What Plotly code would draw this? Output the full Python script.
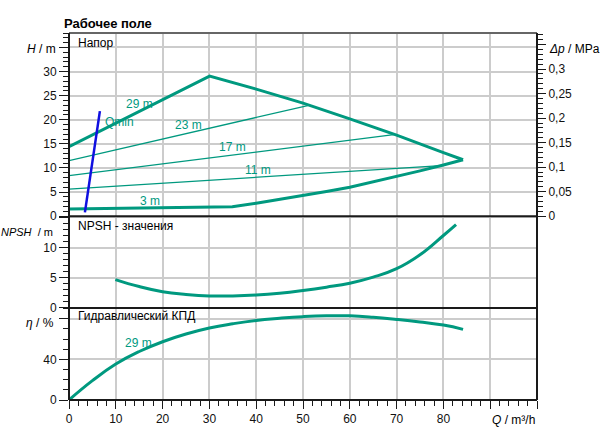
import plotly.graph_objects as go

# ---------------- data ----------------
# Top panel: head H (m) vs flow Q (m3/h)
q_max = [0, 30.04, 40, 50, 60, 70, 80, 84.2]
h_max = [14.4, 29.05, 26.35, 23.45, 20.2, 16.8, 13.2, 11.7]
q_min = [0, 34.9, 40, 45, 50, 55, 60, 65, 70, 75, 80, 84.2]
h_min = [1.5, 1.95, 2.7, 3.45, 4.2, 5.1, 6.0, 7.1, 8.25, 9.4, 10.6, 11.7]
q_23 = [0, 51]
h_23 = [11.5, 22.95]
q_17 = [0, 69.4]
h_17 = [8.4, 16.9]
q_11 = [0, 47.4, 79.5]
h_11 = [5.6, 8.55, 10.5]
q_qmin = [3.4, 6.6]
h_qmin = [0.8, 21.8]

# Middle panel: NPSH (m)
q_npsh = [9.9, 15, 20, 25, 30, 35, 40, 45, 50, 55, 60, 65, 70, 75, 80, 82.7]
npsh = [4.7, 3.55, 2.7, 2.25, 2.0, 2.0, 2.15, 2.45, 2.9, 3.45, 4.1, 5.1, 6.5, 8.8, 12.0, 13.8]

# Bottom panel: hydraulic efficiency (%)
q_eff = [0, 5, 10, 15, 20, 25, 30, 35, 40, 45, 50, 55, 60, 65, 70, 75, 80, 84.2]
eff = [0, 19.0, 35.4, 47.7, 57.3, 64.9, 70.8, 75.0, 78.3, 80.4, 82.0, 82.9, 82.8, 81.4, 79.3, 76.8, 73.7, 69.5]

# curve labels: (text, Q, value, axis)
curve_labels = [
    ("29 m", 15.0, 23.2, "y"),
    ("23 m", 25.6, 18.9, "y"),
    ("17 m", 34.9, 14.25, "y"),
    ("11 m", 40.3, 9.6, "y"),
    ("3 m", 17.4, 3.15, "y"),
    ("29 m", 14.85, 56.4, "y3"),
]

# ---------------- style ----------------
TEAL = "#00997f"
BLUE = "#1010e0"
GRID = "#cccccc"
AX = "#1a1a1a"
FONT = "Liberation Sans, Arial, sans-serif"
MT, MB = 33, 36

fig = go.Figure()

def add(x, y, xa, ya, width, color=TEAL, shape="linear"):
    line = dict(color=color, width=width, shape=shape)
    if shape == "spline":
        line["smoothing"] = 1.3
    fig.add_trace(go.Scatter(x=x, y=y, xaxis=xa, yaxis=ya, mode="lines",
                             line=line, hoverinfo="skip", showlegend=False))

add(q_23, h_23, "x", "y", 1.3)
add(q_17, h_17, "x", "y", 1.3)
add(q_11, h_11, "x", "y", 1.3)
add(q_max, h_max, "x", "y", 3)
add(q_min, h_min, "x", "y", 3)
add(q_qmin, h_qmin, "x", "y", 2.5, color=BLUE)
add(q_npsh, npsh, "x2", "y2", 3, shape="spline")
add(q_eff, eff, "x3", "y3", 3, shape="spline")

# dummy trace to activate pressure axis
fig.add_trace(go.Scatter(x=[None], y=[None], xaxis="x", yaxis="y4", showlegend=False))

d_bot = [0, 0.2507]
d_mid = [0.2507, 0.5009]
d_top = [0.5009, 1.0]

tickfont = dict(family=FONT, size=12, color="#111")

xcommon = dict(range=[0, 100], showgrid=True, gridcolor=GRID, gridwidth=1.5,
               dtick=10, tick0=0, zeroline=False, showline=False)

minor_y = lambda d: dict(ticks="outside", ticklen=5, tickcolor=AX, dtick=d, showgrid=False)

fig.update_layout(
    width=601, height=438,
    margin=dict(l=69, r=64, t=MT, b=MB),
    paper_bgcolor="white", plot_bgcolor="white",
    separators=", ",
    font=dict(family=FONT, size=12, color="#111"),
    xaxis=dict(**xcommon, anchor="y", showticklabels=False, ticks=""),
    xaxis2=dict(**xcommon, anchor="y2", showticklabels=False, ticks=""),
    xaxis3=dict(**xcommon, anchor="y3", showticklabels=True, ticks="outside",
                ticklen=8, tickcolor=AX, tickwidth=1.2, tickfont=tickfont,
                labelalias={"90": "", "100": ""},
                minor=dict(ticks="outside", ticklen=5, tickcolor=AX, dtick=2, showgrid=False)),
    yaxis=dict(domain=d_top, range=[0, 38], dtick=5, tick0=0, showgrid=True,
               gridcolor=GRID, gridwidth=1.5, zeroline=False, ticks="outside",
               ticklen=9, tickcolor=AX, tickwidth=1.2, tickfont=tickfont,
               labelalias={"35": ""}, minor=minor_y(1), anchor="x"),
    yaxis4=dict(overlaying="y", side="right", anchor="x", range=[0, 38 * 0.009832],
                dtick=0.05, tick0=0, showgrid=False, zeroline=False, ticks="outside",
                ticklen=8, tickcolor=AX, tickwidth=1.2, tickfont=tickfont,
                labelalias={"0,35": "", "0.35": ""}, minor=minor_y(0.01)),
    yaxis2=dict(domain=d_mid, range=[0, 15.2], dtick=5, tick0=0, showgrid=True,
                gridcolor=GRID, gridwidth=1.5, zeroline=False, ticks="outside",
                ticklen=9, tickcolor=AX, tickwidth=1.2, tickfont=tickfont,
                labelalias={"15": ""}, minor=minor_y(1), anchor="x2"),
    yaxis3=dict(domain=d_bot, range=[0, 90.5], dtick=40, tick0=0, showgrid=True,
                gridcolor=GRID, gridwidth=1.5, zeroline=False, ticks="outside",
                ticklen=9, tickcolor=AX, tickwidth=1.2, tickfont=tickfont,
                labelalias={"80": ""}, minor=minor_y(10), anchor="x3"),
)

# borders and panel separators
shapes = [
    dict(type="line", xref="paper", yref="paper", x0=0, x1=1, y0=1, y1=1,
         line=dict(color="#666666", width=2)),
    dict(type="line", xref="paper", yref="paper", x0=0, x1=0, y0=0, y1=1,
         line=dict(color=AX, width=2)),
    dict(type="line", xref="paper", yref="paper", x0=1, x1=1, y0=0, y1=1,
         line=dict(color=AX, width=2)),
    dict(type="line", xref="paper", yref="paper", x0=0, x1=1, y0=0, y1=0,
         line=dict(color=AX, width=2)),
    dict(type="line", xref="paper", yref="paper", x0=0, x1=1, y0=d_mid[0], y1=d_mid[0],
         line=dict(color=AX, width=2)),
    dict(type="line", xref="paper", yref="paper", x0=0, x1=1, y0=d_top[0], y1=d_top[0],
         line=dict(color=AX, width=2)),
]
fig.update_layout(shapes=shapes)

ann = []
for txt, qx, vy, ya in curve_labels:
    xa = "x" if ya == "y" else "x3"
    ann.append(dict(text=txt, x=qx, y=vy, xref=xa, yref=ya, showarrow=False,
                    font=dict(family=FONT, size=12, color=TEAL)))
ann.append(dict(text="Qmin", x=7.2, y=19.5, xref="x", yref="y", xanchor="left",
                showarrow=False, font=dict(family=FONT, size=12, color=TEAL)))

H_PLOT = 438 - MT - MB

def py(pix):
    return (438 - MB - pix) / H_PLOT

def paper_ann(text, x, y, xanchor="left", size=12, bold=False):
    if bold:
        text = "<b>" + text + "</b>"
    ann.append(dict(text=text, x=x, y=y, xref="paper", yref="paper", xanchor=xanchor,
                    yanchor="middle", showarrow=False,
                    font=dict(family=FONT, size=size, color="#000")))

paper_ann("Рабочее поле", -0.015, py(23), size=13, bold=True)
paper_ann("Напор", 0.015, py(43))
paper_ann("NPSH - значения", 0.015, py(227))
paper_ann("Гидравлический КПД", 0.015, py(318))
paper_ann("<i>Q</i> / m³/h", 1.0, py(422.3), xanchor="right")

ann.append(dict(text="<i>H</i> / m", x=-0.0235, y=34.7, xref="paper", yref="y",
                xanchor="right", yanchor="middle", showarrow=False,
                font=dict(family=FONT, size=12, color="#000")))
ann.append(dict(text="<i>Δp</i> / MPa", x=1.022, y=34.7, xref="paper", yref="y",
                xanchor="left", yanchor="middle", showarrow=False,
                font=dict(family=FONT, size=12, color="#000")))
ann.append(dict(text="<i>NPSH</i>  / m", x=-0.029, y=12.56, xref="paper", yref="y2",
                xanchor="right", yanchor="middle", showarrow=False,
                font=dict(family=FONT, size=11, color="#000")))
ann.append(dict(text="<i>η</i> / %", x=-0.027, y=75.4, xref="paper", yref="y3",
                xanchor="right", yanchor="middle", showarrow=False,
                font=dict(family=FONT, size=12, color="#000")))

fig.update_layout(annotations=ann)

fig.write_html("out.html")
